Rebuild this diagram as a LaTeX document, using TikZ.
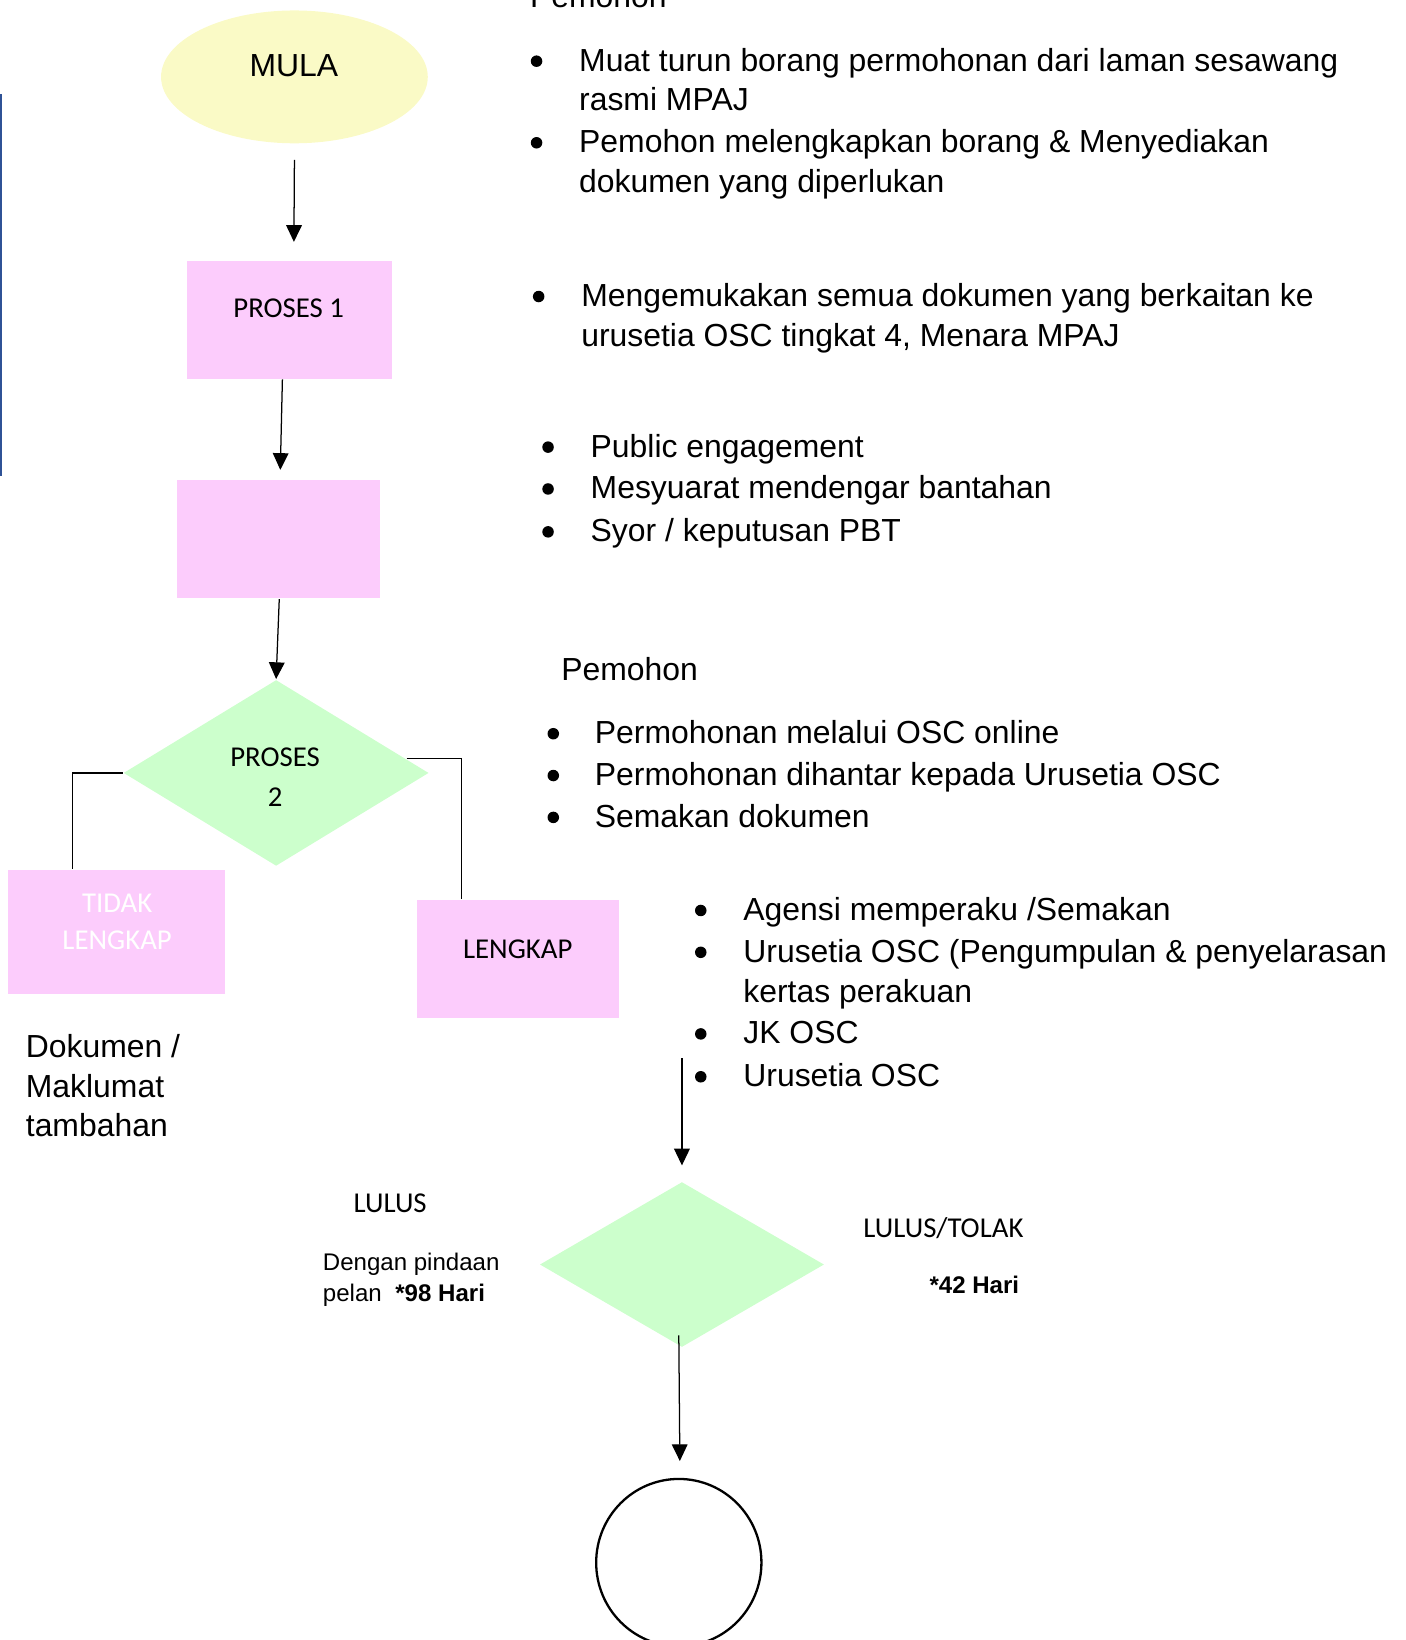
\documentclass[tikz,border=0pt]{standalone}
\usepackage{fontspec}
\setmainfont{Liberation Sans}
\newfontfamily\calibri{Carlito}
\usetikzlibrary{shapes.geometric,arrows.meta,calc}

\definecolor{mulayellow}{RGB}{250,250,198}
\definecolor{boxpink}{RGB}{252,204,252}
\definecolor{diagreen}{RGB}{204,255,204}
\definecolor{edgeblue}{RGB}{47,82,150}

\tikzset{every picture/.style={line width=0.75pt}}
\tikzset{
  pinkbox/.style={rectangle, fill=boxpink, inner sep=0pt},
  greendia/.style={diamond, fill=diagreen, inner sep=0pt},
  flowarrow/.style={line width=0.6pt, -{Triangle[length=8pt,width=7.5pt]}},
  elbow/.style={line width=0.6pt},
  bodytext/.style={font=\fontsize{15.25}{19}\selectfont, anchor=base west, inner sep=0pt},
  smalltext/.style={font=\fontsize{11.5}{14}\selectfont, anchor=base west, inner sep=0pt},
  boxtext/.style={font=\calibri\fontsize{13.75}{16}\selectfont, anchor=base, inner sep=0pt},
  bulletdot/.style={circle, fill, inner sep=0pt, minimum size=5.5pt}
}

\begin{document}
\begin{tikzpicture}[x=0.5pt,y=0.5pt,yscale=-1,xscale=1]
\useasboundingbox (0,0) rectangle (1344,1568);

%Straight Lines: left edge
\draw [edgeblue, line width=1pt] (1,90) -- (1,455) ;

%Shape: Ellipse
\node (mula) at (281.5,73.5) [ellipse, fill=mulayellow, inner sep=0pt, minimum width=127.5pt, minimum height=63.5pt] {};
%Shape: Rectangle
\node (p1) at (277,306) [pinkbox, minimum width=98pt, minimum height=56pt] {};
%Shape: Rectangle
\node (p1b) at (266,515.5) [pinkbox, minimum width=97pt, minimum height=56.5pt] {};
%Shape: Diamond
\node (p2) at (264,739) [greendia, minimum width=146pt, minimum height=89pt] {};
%Shape: Rectangle
\node (tidak) at (111.5,891) [pinkbox, minimum width=103.5pt, minimum height=59pt] {};
%Shape: Rectangle
\node (lengkap) at (495.5,916.5) [pinkbox, minimum width=96.5pt, minimum height=56.5pt] {};
%Shape: Diamond
\node (lulus) at (652,1209) [greendia, minimum width=136pt, minimum height=79pt] {};
%Shape: Ellipse
\node (tamat) at (649,1494) [ellipse, draw, line width=1.1pt, inner sep=0pt, minimum width=79pt, minimum height=80pt] {};
\coordinate (osc) at (652,1012);

%Straight Lines
\draw [flowarrow] ([yshift=7.5pt]mula.south) -- ([xshift=2pt,yshift=-9pt]p1.north) ;
%Straight Lines
\draw [flowarrow] ([xshift=-3.5pt]p1.south) -- ([xshift=1pt,yshift=-4.5pt]p1b.north) ;
%Straight Lines
\draw [flowarrow] ([xshift=0.5pt]p1b.south) -- (p2.north) ;
%Straight Lines
\draw [elbow] (p2.west) -| ([xshift=-21.25pt]tidak.north) ;
%Straight Lines
\draw [elbow] ($(p2.east)!0.15!(p2.north)$) -| ([xshift=-27.25pt]lengkap.north) ;
%Straight Lines
\draw [flowarrow] (osc) -- ([yshift=-7.5pt]lulus.north) ;
%Straight Lines
\draw [flowarrow] ([xshift=-1.5pt,yshift=-6pt]lulus.south) -- ([xshift=0.5pt,yshift=-8pt]tamat.north) ;

% Text Node
\draw (281,73) node (mulatxt) [font=\fontsize{15.25}{19}\selectfont, anchor=base, inner sep=0pt] {MULA};
% Text Node
\draw (276,304) node (p1txt) [boxtext] {PROSES 1};
% Text Node
\draw (263,733) node (p2txta) [boxtext] {PROSES};
% Text Node
\draw (263,771) node (p2txtb) [boxtext] {2};
% Text Node
\draw (112,872) node (tidaktxta) [boxtext, white] {TIDAK};
% Text Node
\draw (112,908) node (tidaktxtb) [boxtext, white] {LENGKAP};
% Text Node
\draw (495,916) node (lengkaptxt) [boxtext] {LENGKAP};
% Text Node
\draw (24,1011) node (dok1) [bodytext] {Dokumen /};
\draw (24,1049) node (dok2) [bodytext] {Maklumat};
\draw (24,1087) node (dok3) [bodytext] {tambahan};
% Text Node
\draw (373,1159) node (lulustxt) [boxtext] {LULUS};
% Text Node
\draw (308,1215) node (pinda1) [smalltext] {Dengan pindaan};
\draw (308,1244) node (pinda2) [smalltext] {pelan\hspace{6.5pt}\textbf{*98 Hari}};
% Text Node
\draw (902,1183) node (tolaktxt) [boxtext] {LULUS/TOLAK};
% Text Node
\draw (888,1237) node (hari42) [smalltext] {\textbf{*42 Hari}};

% Text Node: Pemohon (top)
\draw (506,7) node (pemohon1) [bodytext] {Pemohon};
% Text Node
\node (b1) at (513,58.5) [bulletdot] {};
\draw (553,68) node (t1a) [bodytext] {Muat turun borang permohonan dari laman sesawang};
\draw (553,106) node (t1b) [bodytext] {rasmi MPAJ};
\node (b2) at (513,136.5) [bulletdot] {};
\draw (553,146) node (t2a) [bodytext] {Pemohon melengkapkan borang \& Menyediakan};
\draw (553,184) node (t2b) [bodytext] {dokumen yang diperlukan};
% Text Node
\node (b3) at (515,283.5) [bulletdot] {};
\draw (555,293) node (t3a) [bodytext] {Mengemukakan semua dokumen yang berkaitan ke};
\draw (555,331) node (t3b) [bodytext] {urusetia OSC tingkat 4, Menara MPAJ};
% Text Node
\node (b4) at (524,427.5) [bulletdot] {};
\draw (564,437) node (t4) [bodytext] {Public engagement};
\node (b5) at (524,467.5) [bulletdot] {};
\draw (564,477) node (t5) [bodytext] {Mesyuarat mendengar bantahan};
\node (b6) at (524,508.5) [bulletdot] {};
\draw (564,518) node (t6) [bodytext] {Syor / keputusan PBT};
% Text Node
\draw (536,651) node (pemohon2) [bodytext] {Pemohon};
% Text Node
\node (b7) at (529,701.5) [bulletdot] {};
\draw (568,711) node (t7) [bodytext] {Permohonan melalui OSC online};
\node (b8) at (529,741.5) [bulletdot] {};
\draw (568,751) node (t8) [bodytext] {Permohonan dihantar kepada Urusetia OSC};
\node (b9) at (529,781.5) [bulletdot] {};
\draw (568,791) node (t9) [bodytext] {Semakan dokumen};
% Text Node
\node (b10) at (670,870.5) [bulletdot] {};
\draw (710,880) node (t10) [bodytext] {Agensi memperaku /Semakan};
\node (b11) at (670,910.5) [bulletdot] {};
\draw (710,920) node (t11a) [bodytext] {Urusetia OSC (Pengumpulan \& penyelarasan};
\draw (710,958) node (t11b) [bodytext] {kertas perakuan};
\node (b12) at (670,988.5) [bulletdot] {};
\draw (710,998) node (t12) [bodytext] {JK OSC};
\node (b13) at (670,1029.5) [bulletdot] {};
\draw (710,1039) node (t13) [bodytext] {Urusetia OSC};

\end{tikzpicture}
\end{document}
